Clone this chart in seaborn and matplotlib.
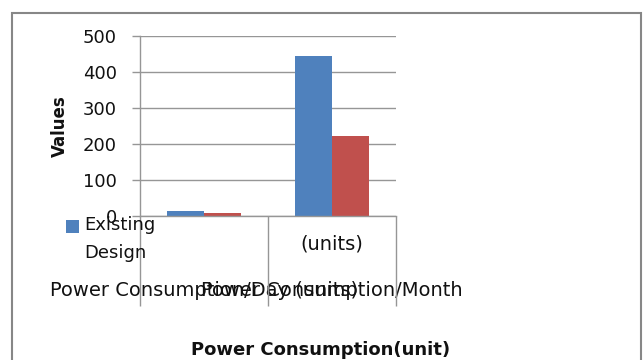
import matplotlib
matplotlib.use("Agg")
import matplotlib.pyplot as plt
import seaborn as sns
import pandas as pd
from matplotlib.patches import Rectangle, Patch
from matplotlib.legend_handler import HandlerPatch

# ---- data ----
categories = ["Power Consumption/Day (units)", "Power Consumption/Month (units)"]
tick_labels = ["Power Consumption/Day (units)", "Power Consumption/Month"]
second_line = ["", "(units)"]
series = ["Existing Design", "Proposed Design"]
existing = [14.8, 445]
proposed = [7.4, 223]
y_ticks = [0, 100, 200, 300, 400, 500]

BLUE = "#4F81BD"
RED = "#C0504D"
GRID = "#969696"
TXT = "#111111"

sns.set_style("white")
plt.rcParams["font.family"] = ["DejaVu Sans"]

df = pd.DataFrame({
    "category": categories * 2,
    "series": [series[0]] * len(categories) + [series[1]] * len(categories),
    "value": existing + proposed,
})

W, H = 643, 360
fig = plt.figure(figsize=(W / 100, H / 100), dpi=100)
ax = fig.add_axes([140 / W, 1 - 216 / H, 256 / W, 180 / H])

sns.barplot(data=df, x="category", y="value", hue="series", hue_order=series,
            palette=[BLUE, RED], width=0.58, saturation=1, linewidth=0,
            legend=False, ax=ax)

ax.set_xlim(-0.5, len(categories) - 0.5)
ax.set_ylim(y_ticks[0], y_ticks[-1])
ax.set_yticks(y_ticks)
ax.yaxis.grid(True, color=GRID, lw=1)
ax.xaxis.grid(False)
ax.set_axisbelow(True)
for s in ["top", "right"]:
    ax.spines[s].set_visible(False)
for s in ["left", "bottom"]:
    ax.spines[s].set_color(GRID)
    ax.spines[s].set_linewidth(1)

ax.tick_params(axis="y", left=True, length=5.8, width=1, color=GRID, pad=11,
               labelsize=13, labelcolor=TXT)
ax.set_xticks(range(len(categories)))
ax.set_xticklabels(tick_labels)
ax.tick_params(axis="x", which="major", bottom=True, length=0, pad=47,
               labelsize=14, labelcolor=TXT)
ax.set_xticks([i - 0.5 for i in range(len(categories) + 1)], minor=True)
ax.tick_params(axis="x", which="minor", bottom=True, length=65, width=1,
               color=GRID, direction="out")

xtr = ax.get_xaxis_transform()
for i, t in enumerate(second_line):
    if t:
        ax.text(i, -28 / 180, t, transform=xtr, ha="center", va="center",
                fontsize=14, color=TXT)

ax.set_ylabel("Values", fontsize=12, fontweight="bold", color=TXT)
ax.yaxis.label.set_va("center")
ax.yaxis.set_label_coords((60 - 140) / 256, 0.5)
ax.set_xlabel("Power Consumption(unit)", fontsize=13, fontweight="bold", color=TXT)
ax.xaxis.label.set_va("center")
ax.xaxis.set_label_coords((321 - 140) / 256, (216 - 350) / 180)


def top_square(legend, orig_handle, xdescent, ydescent, width, height, fontsize):
    # square aligned with the first line of the wrapped label
    return Rectangle((-xdescent, -ydescent + 9.6), width, height)


handles = [Patch(facecolor=BLUE, edgecolor="none", label="Existing\nDesign")]
leg = fig.legend(handles=handles, loc="upper left",
                 bbox_to_anchor=(66 / W, 1 - 216 / H), frameon=False,
                 fontsize=13, handlelength=0.72, handleheight=0.72,
                 handletextpad=0.3, borderpad=0, borderaxespad=0,
                 handler_map={Patch: HandlerPatch(patch_func=top_square)})
for t in leg.get_texts():
    t.set_linespacing(1.7)
    t.set_color(TXT)

fig.patches.append(Rectangle((12 / W, -0.1), (641 - 12) / W, 1.1 - 13 / H,
                             transform=fig.transFigure, fill=False,
                             edgecolor="#878787", lw=1.5, zorder=0))

fig.savefig("out.png", dpi=100)
